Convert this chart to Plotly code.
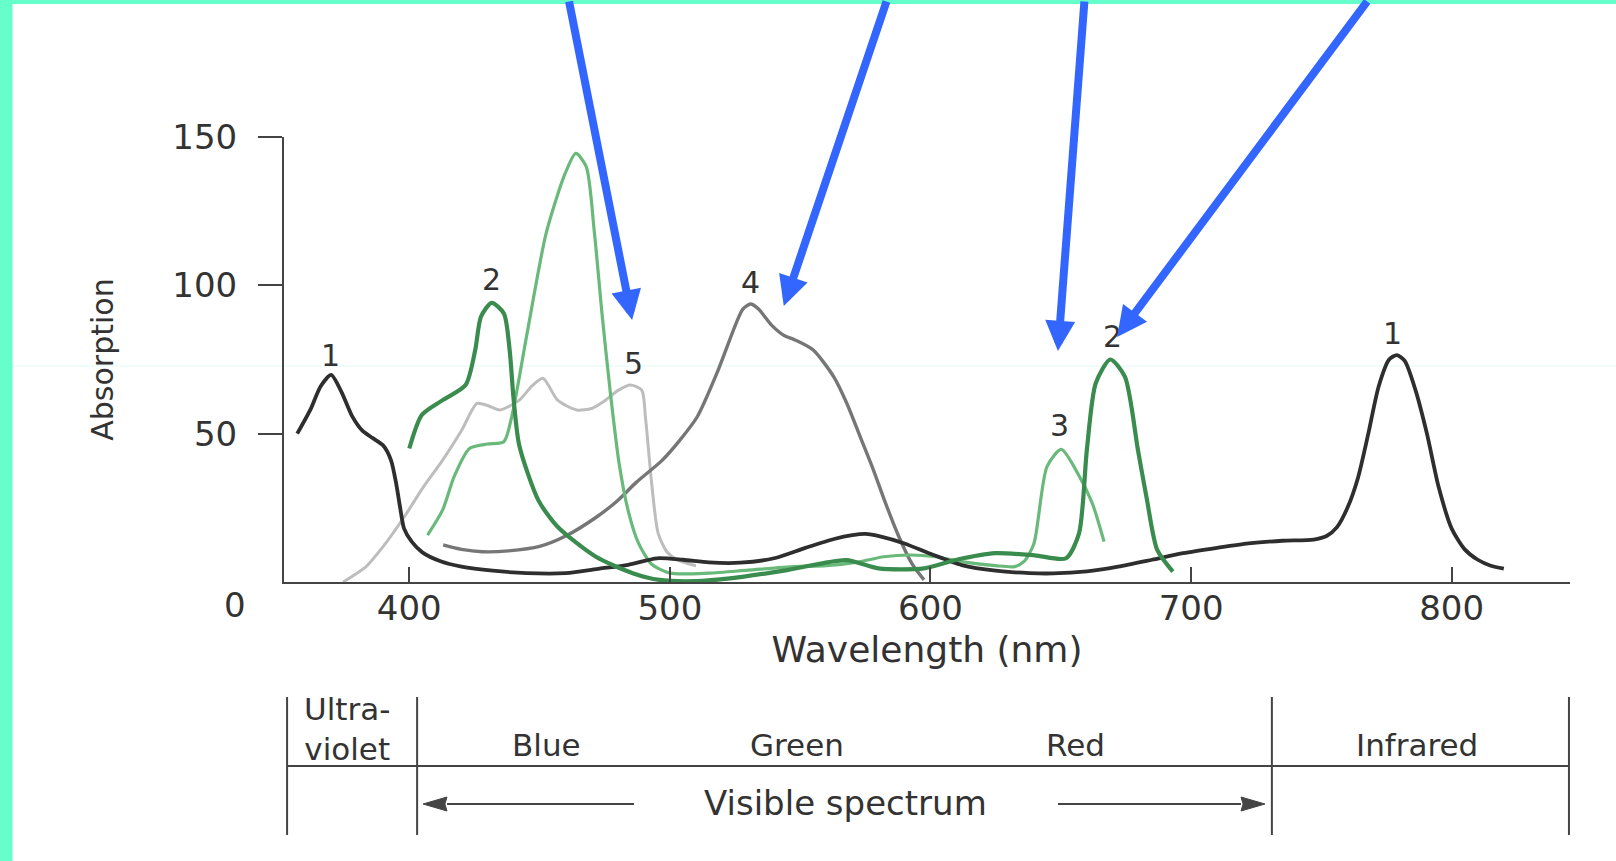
import plotly.graph_objects as go

# ---------------- data ----------------
# curve 1 (dark)
wl1 = [357, 362, 366, 370, 374, 378, 382, 386, 390, 393, 395, 396.5, 398, 401, 405, 412, 420, 432, 445, 460,
       473, 484, 495, 505, 515, 527, 540, 552, 563, 570, 575, 581, 590, 600, 612, 625, 638, 647, 660, 672,
       685, 697, 710, 722, 735, 747, 752, 756, 760, 764, 768, 772, 776, 779, 782, 786, 790.5, 795, 800, 805,
       810, 815, 820]
a1 = [50, 58, 66, 69.8, 64, 56, 51, 48.5, 46, 41, 33, 25, 18, 13.5, 10, 7, 5.2, 3.8, 3, 3,
      4.5, 5.8, 8, 7.5, 6.6, 6.5, 8, 11.5, 14.5, 15.8, 16.2, 15.3, 13, 9.5, 5.7, 3.8, 3, 2.9, 3.6, 5.2,
      7.5, 9.7, 11.5, 13, 13.9, 14.3, 15.5, 18.5, 25, 35, 50, 66, 75, 76.5, 74.5, 65, 50, 32, 18, 11,
      7.5, 5.5, 4.5]

# curve 2 (green)
wl2 = [400, 404.8, 412.8, 421.6, 425.3, 427.5, 431.6, 436.3, 438.5, 440, 442.2, 449.5, 456.9, 471.6, 486,
       496, 510, 523, 545, 567.6, 580, 597.5, 610, 624.8, 640, 652, 657, 660, 663.4, 669, 674.6, 679.6,
       683, 687, 693]
a2 = [45, 56.3, 61.3, 66.4, 78.2, 89.4, 94.1, 90.5, 78.2, 62, 46, 27.6, 18.6, 8.5, 2.9,
      0.7, 0.3, 1.2, 4, 7.4, 4.6, 4.6, 7.5, 9.7, 9, 8, 16.4, 44.5, 67, 75, 69.2, 44.5,
      28, 10.8, 3.5]

# curve 3 (light green)
wl3 = [407, 412.8, 417.2, 423.1, 430, 436.3, 439.3, 445.2, 452.5, 459.8, 463.9, 467.9, 471, 474, 477,
       480.5, 484, 488, 493, 500, 515, 530, 547.8, 560, 572.6, 582, 592.5, 602, 612.5, 625, 632.3, 636,
       639.7, 644.7, 650.2, 657.2, 662.1, 666.6]
a3 = [15.8, 24.3, 35.5, 45, 46.5, 47.3, 55.7, 83.8, 117.5, 137.7, 144.5, 140, 118, 90, 65,
      40, 24, 13, 6, 3, 3, 4, 5.2, 5.5, 6.8, 8.5, 9.1, 8.5, 6.8, 5.5, 5.2, 7,
      13, 38.9, 44.7, 35.5, 26.5, 13.6]

# curve 4 (gray)
wl4 = [413, 420, 428, 438, 450, 460, 472, 480, 487, 497, 504, 510.5, 518, 525.4, 528, 531, 534, 539, 544,
       548, 555, 563, 568, 573, 578, 583, 588, 593, 597.5]
a4 = [12.5, 11, 10.2, 10.5, 12, 15.5, 22, 27.5, 33.5, 41, 48, 55.7, 70.3, 87.2, 92, 93.7, 92, 86.6, 83,
      81.6, 78.2, 69, 60, 49, 38, 26, 15, 6, 0.7]

# curve 5 (light gray)
wl5 = [374.6, 383.4, 390, 398.1, 405, 412.8, 420, 426, 430, 434.8, 442.2, 447, 451.3, 456.9, 464.2, 470,
       474.5, 480, 484.8, 489.2, 490.6, 493, 495.5, 499, 503, 510]
a5 = [0, 5.2, 12, 22, 31.5, 41.1, 51, 60.2, 59.5, 58, 61.3, 66, 68.7, 61.3, 58, 58.5,
      60.8, 64.5, 66.4, 64.7, 55.7, 33.3, 16.4, 10, 7.4, 5.5]

x_ticks = [400, 500, 600, 700, 800]
y_ticks = [50, 100, 150]

# curve number labels: (text, wavelength, absorption)
curve_labels = [("1", 369.6, 76.2), ("2", 431.4, 101.8), ("3", 463.6, 151), ("4", 530.8, 101.1),
                ("5", 486.2, 73.5), ("3", 649.4, 52.6), ("2", 670.0, 82.6), ("1", 777.4, 83.9)]

# blue pointer arrows: (tail wl, tail A, tip wl, tip A)
pointer_arrows = [(461.2, 196.2, 485.5, 88.3), (583.3, 196.2, 543.7, 93.0),
                  (659.1, 196.2, 648.9, 77.9), (768.0, 196.2, 671.6, 82.6)]

# spectrum band table
band_edges = [353.1, 403.0, 731.0, 845.0]
band_labels = [("Ultra-<br>violet", 376.0), ("Blue", 452.5), ("Green", 548.8), ("Red", 655.5),
               ("Infrared", 786.7)]

# ---------------- layout geometry (pixels) ----------------
W, H = 1616, 861
PL, PT, PW, PH = 284, 137, 1286, 445
X_RANGE = [351.92, 845.4]


def px(x):
    return (x - PL) / PW


def py(y):
    return (PT + PH - y) / PH


def wl_of(x):
    return X_RANGE[0] + (x - PL) / PW * (X_RANGE[1] - X_RANGE[0])


FONT = "DejaVu Sans"
TXT = "#333333"
LINE = "#444444"

fig = go.Figure()

series = [
    (wl5, a5, "#bdbdbd", 3.0),
    (wl4, a4, "#767676", 3.4),
    (wl3, a3, "#68b97a", 3.2),
    (wl1, a1, "#2e2e2e", 3.8),
    (wl2, a2, "#3a8c4e", 4.2),
]
for xs, ys, col, w in series:
    fig.add_trace(go.Scatter(x=xs, y=ys, mode="lines",
                             line=dict(color=col, width=w, shape="spline", smoothing=0.7),
                             hoverinfo="skip", showlegend=False, cliponaxis=False))

shapes = []
# faint scan line
shapes.append(dict(type="line", xref="paper", yref="paper", x0=px(0), x1=px(W), y0=py(366), y1=py(366),
                   line=dict(color="#e2faf3", width=1), layer="below"))
# table lines
for e in band_edges:
    shapes.append(dict(type="line", xref="x", yref="paper", x0=e, x1=e, y0=py(697), y1=py(835),
                       line=dict(color=LINE, width=2)))
shapes.append(dict(type="line", xref="x", yref="paper", x0=band_edges[0], x1=band_edges[-1],
                   y0=py(766), y1=py(766), line=dict(color=LINE, width=2)))
# visible spectrum arrows (lines + slender heads)
ya = py(804)
for tail, tip in [(wl_of(634), wl_of(423)), (wl_of(1058), wl_of(1265))]:
    sgn = 1 if tip > tail else -1
    back = tip - sgn * 24 * (X_RANGE[1] - X_RANGE[0]) / PW
    shapes.append(dict(type="line", xref="x", yref="paper", x0=tail, x1=back, y0=ya, y1=ya,
                       line=dict(color=LINE, width=2)))
    shapes.append(dict(type="path", xref="x", yref="paper",
                       path=f"M {tip} {ya} L {back} {py(797)} L {back + sgn*0.8} {ya} L {back} {py(811)} Z",
                       fillcolor=LINE, line=dict(color=LINE, width=1)))
# teal frame
shapes.append(dict(type="rect", xref="paper", yref="paper", x0=px(0), x1=px(12.5), y0=py(H), y1=py(0),
                   fillcolor="#66ffcc", line=dict(width=0), layer="above"))
shapes.append(dict(type="rect", xref="paper", yref="paper", x0=px(0), x1=px(W), y0=py(4), y1=py(0),
                   fillcolor="#66ffcc", line=dict(width=0), layer="above"))

ann = []
for t, x, y in curve_labels:
    ann.append(dict(text=t, x=x, y=y, xref="x", yref="y", showarrow=False,
                    font=dict(family=FONT, size=30, color=TXT), xanchor="center", yanchor="middle"))
for tx, ty, hx, hy in pointer_arrows:
    ann.append(dict(text="", x=hx, y=hy, xref="x", yref="y", ax=tx, ay=ty, axref="x", ayref="y",
                    showarrow=True, arrowhead=2, arrowsize=0.75, arrowwidth=8, arrowcolor="#3366ff"))
# zero label of the absorption axis
ann.append(dict(text="0", x=px(235), y=py(605), xref="paper", yref="paper", showarrow=False,
                font=dict(family=FONT, size=34, color=TXT), xanchor="center", yanchor="middle"))
for t, x in band_labels:
    ann.append(dict(text=t, x=x, y=py(745 if "<br>" not in t else 729), xref="x", yref="paper",
                    showarrow=False, align="center",
                    font=dict(family=FONT, size=31, color=TXT), xanchor="center", yanchor="middle"))
ann.append(dict(text="Visible spectrum", x=wl_of(845), y=py(803), xref="x", yref="paper", showarrow=False,
                font=dict(family=FONT, size=34, color=TXT), xanchor="center", yanchor="middle"))

fig.update_layout(
    width=W, height=H, autosize=False,
    margin=dict(l=PL, r=W - PL - PW, t=PT, b=H - PT - PH, pad=0),
    paper_bgcolor="white", plot_bgcolor="white",
    shapes=shapes, annotations=ann,
    xaxis=dict(range=X_RANGE, tickvals=x_ticks, ticks="inside", ticklen=15, tickwidth=2, tickcolor=LINE,
               showline=True, linecolor=LINE, linewidth=2, showgrid=False, zeroline=False,
               tickfont=dict(family=FONT, size=34, color=TXT), ticklabelstandoff=-5,
               title=dict(text="Wavelength (nm)", font=dict(family=FONT, size=36, color=TXT), standoff=10)),
    yaxis=dict(range=[0, 150], tickvals=y_ticks, ticks="outside", ticklen=24, tickwidth=2, tickcolor=LINE,
               showline=True, linecolor=LINE, linewidth=2, showgrid=False, zeroline=False,
               tickfont=dict(family=FONT, size=34, color=TXT), ticklabelstandoff=14,
               title=dict(text="Absorption", font=dict(family=FONT, size=30, color=TXT), standoff=50)),
)

fig.write_html("out.html")
